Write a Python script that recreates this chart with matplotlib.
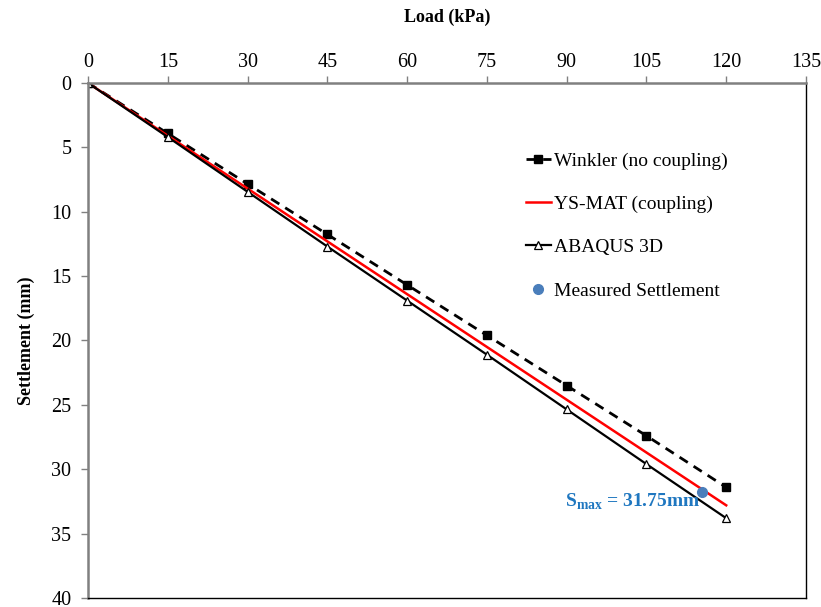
import matplotlib
matplotlib.use("Agg")
import matplotlib.pyplot as plt

plt.rcParams['font.family'] = ['Liberation Serif', 'DejaVu Serif']
plt.rcParams['mathtext.fontset'] = 'custom'
plt.rcParams['mathtext.rm'] = 'Liberation Serif'
plt.rcParams['mathtext.bf'] = 'Liberation Serif:bold'

load = [0, 15, 30, 45, 60, 75, 90, 105, 120]
winkler = [0, 3.92, 7.84, 11.76, 15.68, 19.6, 23.5, 27.4, 31.4]
ysmat = [0, 4.1, 8.2, 12.3, 16.4, 20.5, 24.6, 28.7, 32.8]
abaqus = [0, 4.2, 8.45, 12.7, 16.9, 21.1, 25.35, 29.6, 33.8]
measured_load = [115.5]
measured_settle = [31.75]

xticks = list(range(0, 136, 15))
yticks = list(range(0, 41, 5))

fig = plt.figure(figsize=(8.21, 6.07), dpi=100)
ax = fig.add_axes([0.1072, 0.0148, 0.8745, 0.8485])

ax.plot(load, winkler, color='black', ls=(0, (3.5, 2.5)), lw=2,
        marker='s', ms=6, mfc='black', mec='black', label='Winkler (no coupling)')
ax.plot(load, ysmat, color='#ff0000', lw=1.8, label='YS-MAT (coupling)')
ax.plot(load, abaqus, color='black', lw=1.6, marker='^', ms=6,
        mfc='white', mec='black', mew=0.9, label='ABAQUS 3D')
ax.plot(measured_load, measured_settle, ls='none', marker='o', ms=7,
        color='#4a7ebb', label='Measured Settlement')

ax.text(115.2, 32.5, r'S$_{\mathbf{max}}$ = 31.75mm', color='#1f77c0',
        fontsize=14, fontweight='bold', ha='right', va='center')

ax.set_xlim(0, 135)
ax.set_ylim(40, 0)
ax.set_xticks(xticks)
ax.set_yticks(yticks)
ax.xaxis.tick_top()
ax.xaxis.set_label_position('top')
ax.tick_params(axis='both', direction='out', length=5, width=1, color='#808080',
               labelsize=14.5, pad=7)
ax.tick_params(axis='x', pad=3)
ax.set_xlabel('Load (kPa)', fontsize=13, fontweight='bold', labelpad=22)
ax.set_ylabel('Settlement (mm)', fontsize=13, fontweight='bold', labelpad=12)

for side in ['left', 'top']:
    ax.spines[side].set_color('#808080')
    ax.spines[side].set_linewidth(1.8)
for side in ['right', 'bottom']:
    ax.spines[side].set_color('black')
    ax.spines[side].set_linewidth(1)

ax.legend(loc='upper left', bbox_to_anchor=(0.585, 0.9), frameon=False,
          fontsize=14, handlelength=1.3, handletextpad=0.15, labelspacing=1.32,
          numpoints=1)

fig.savefig('out.png', dpi=100)
